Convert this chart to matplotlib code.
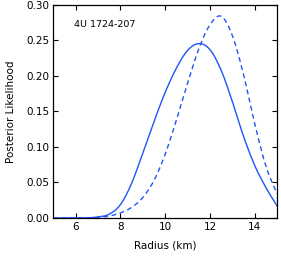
import numpy as np
import matplotlib
matplotlib.use("Agg")
import matplotlib.pyplot as plt

# Data
radius = [5.0, 5.5, 6.0, 6.5, 7.0, 7.5, 8.0, 8.5, 9.0, 9.5, 10.0, 10.5, 11.0, 11.5,
          12.0, 12.5, 13.0, 13.5, 14.0, 14.5, 15.0]
l_solid = [0.0, 0.0, 0.0, 0.0003, 0.0015, 0.0055, 0.019, 0.049, 0.092, 0.136, 0.177, 0.211,
           0.236, 0.2455, 0.237, 0.208, 0.164, 0.115, 0.074, 0.043, 0.017]
l_dash = [0.0, 0.0, 0.0, 0.0002, 0.0009, 0.0028, 0.0072, 0.015, 0.029, 0.053, 0.090, 0.138,
          0.190, 0.238, 0.272, 0.284, 0.257, 0.202, 0.133, 0.073, 0.034]

x_ticks = [6, 8, 10, 12, 14]
y_ticks = [0.00, 0.05, 0.10, 0.15, 0.20, 0.25, 0.30]
label_text = "4U 1724-207"


def smooth(x, y, n=25):
    """Catmull-Rom interpolation through the read points (drawing only)."""
    x = np.asarray(x, float)
    y = np.asarray(y, float)
    px = np.concatenate([[2 * x[0] - x[1]], x, [2 * x[-1] - x[-2]]])
    py = np.concatenate([[2 * y[0] - y[1]], y, [2 * y[-1] - y[-2]]])
    ox, oy = [], []
    t = np.linspace(0, 1, n, endpoint=False)
    for i in range(1, len(px) - 2):
        for arr, out in ((px, ox), (py, oy)):
            p0, p1, p2, p3 = arr[i - 1], arr[i], arr[i + 1], arr[i + 2]
            out.extend(0.5 * ((2 * p1) + (-p0 + p2) * t + (2 * p0 - 5 * p1 + 4 * p2 - p3) * t ** 2
                              + (-p0 + 3 * p1 - 3 * p2 + p3) * t ** 3))
    ox.append(x[-1]); oy.append(y[-1])
    return np.array(ox), np.clip(np.array(oy), 0, None)


plt.rcParams['font.family'] = ['DejaVu Sans']
fig = plt.figure(figsize=(2.81, 2.58), dpi=100)
ax = fig.add_axes([0.190, 0.155, 0.796, 0.826])

color = '#1f55f5'
sx, sy = smooth(radius, l_solid)
dx, dy = smooth(radius, l_dash)
ax.plot(sx, sy, color=color, lw=1.0)
ax.plot(dx, dy, color=color, lw=1.0, dashes=(3.5, 2.5))

ax.set_xlim(5, 15)
ax.set_ylim(0, 0.30)
ax.set_xticks(x_ticks)
ax.set_yticks(y_ticks)
ax.set_yticklabels([f"{v:.2f}" for v in y_ticks])
ax.tick_params(direction='in', length=3.5, width=0.8, top=True, right=True,
               labelsize=7.5, pad=3)
for s in ax.spines.values():
    s.set_linewidth(0.9)
ax.set_xlabel("Radius (km)", fontsize=7.5, labelpad=6)
ax.set_ylabel("Posterior Likelihood", fontsize=7.5, labelpad=7)
ax.text(0.09, 0.895, label_text, transform=ax.transAxes, fontsize=6.8)

fig.savefig("out.png", dpi=100)
